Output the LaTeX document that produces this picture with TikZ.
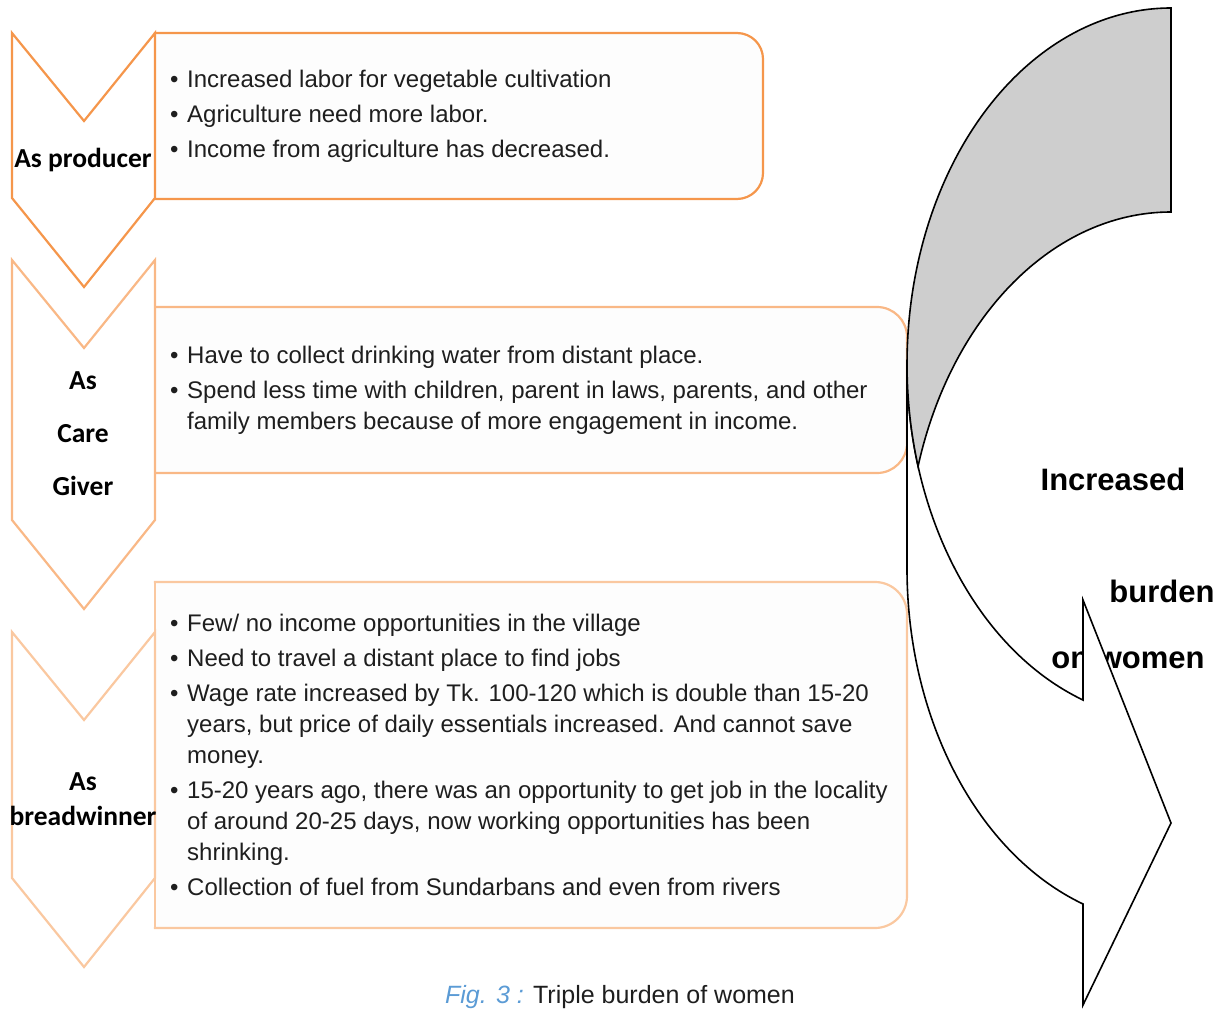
\documentclass[tikz,border=0pt]{standalone}
\usepackage{fontspec}
\setmainfont{Liberation Sans}
\newfontfamily\calibri{Carlito}
\definecolor{orangeA}{RGB}{245,150,75}
\definecolor{orangeB}{RGB}{249,184,134}
\definecolor{orangeC}{RGB}{250,200,160}
\definecolor{capblue}{RGB}{91,155,213}
\definecolor{backgray}{RGB}{206,206,206}
\definecolor{boxfill}{RGB}{253,253,253}
\definecolor{ink}{RGB}{30,30,30}
\newcommand{\bitem}{\makebox[17pt][l]{\textbullet}}
\newcommand{\bcont}{\hspace*{17pt}}

\begin{document}
\begin{tikzpicture}[x=1pt, y=-1pt]
  \tikzstyle{chevron} = [line width=2.2pt, fill=white, line join=miter]
  \tikzstyle{listbox} = [line width=2.2pt, fill=boxfill, line cap=rect]
  \tikzstyle{role} = [font=\calibri\bfseries\fontsize{27.5}{35}\selectfont, align=center, inner sep=0pt]
  \tikzstyle{points} = [font=\fontsize{24}{31}\selectfont, align=left, anchor=west, inner sep=0pt, text=ink]
  \tikzstyle{burden} = [font=\bfseries\fontsize{31}{37}\selectfont, inner sep=0pt]
  \tikzstyle{bigarrow} = [line width=1.6pt, line join=miter]

  \useasboundingbox (0,0) rectangle (1226,1009);

  % Draw list boxes
  \foreach \ytop/\ybot/\xr/\col/\rad in {33/199/763/orangeA/26, 307/473/907/orangeB/30, 582/928/907/orangeC/32}
    {
    \filldraw[listbox, draw=\col, rounded corners=\rad pt] (155,\ybot) -- (\xr,\ybot) -- (\xr,\ytop) -- (155,\ytop);
    \draw[listbox, draw=\col] (155,\ytop) -- (155,\ybot);
    }

  % Draw chevrons
  \foreach \ytop/\ybot/\col in {33/198/orangeA, 260/520/orangeB, 632/878/orangeC}
    \draw[chevron, draw=\col] (12,\ytop) -- (84,\ytop+88) -- (155,\ytop) -- (155,\ybot)
      -- (84,\ybot+89) -- (12,\ybot) -- cycle;

  % Roles
  \node[role] (producer) at (83,160) {As producer};
  \node[role, font=\calibri\bfseries\fontsize{27.5}{53}\selectfont] (caregiver) at (83,434) {As\\Care\\Giver};
  \node[role] (breadwinner) at (83,799) {As\\breadwinner};

  % Points
  \node[points] (producing) at (170,116) {\bitem Increased labor for vegetable cultivation\\[4pt]
    \bitem Agriculture need more labor.\\[4pt]
    \bitem Income from agriculture has decreased.};
  \node[points] (caring) at (170,390) {\bitem Have to collect drinking water from distant place.\\[4pt]
    \bitem Spend less time with children, parent in laws, parents, and other\\
    \bcont family members because of more engagement in income.};
  \node[points] (earning) at (170,755) {\bitem Few/ no income opportunities in the village\\[4pt]
    \bitem Need to travel a distant place to find jobs\\[4pt]
    \bitem Wage rate increased by Tk. 100-120 which is double than 15-20\\
    \bcont years, but price of daily essentials increased. And cannot save\\
    \bcont money.\\[4pt]
    \bitem 15-20 years ago, there was an opportunity to get job in the locality\\
    \bcont of around 20-25 days, now working opportunities has been\\
    \bcont shrinking.\\[4pt]
    \bitem Collection of fuel from Sundarbans and even from rivers};

  % Words on the curved arrow
  \node[burden] (increased) at (1113,479) {Increased};
  \node[burden] (burdenword) at (1162,591) {burden};
  \node[burden] (onwomen) at (1128,660) {on women};

  % Curved arrow
  \filldraw[bigarrow, fill=white] (907,364.2)
    arc[start angle=180, end angle=109.47, x radius=264, y radius=356.2]
    -- (1083,600) -- (1171,823) -- (1083,1005) -- (1083,904)
    arc[start angle=109.47, end angle=180, x radius=264, y radius=356.2] -- cycle;
  \filldraw[bigarrow, fill=backgray] (1171,8)
    arc[start angle=270, end angle=163.36, x radius=264, y radius=356.2]
    arc[start angle=196.64, end angle=270, x radius=264, y radius=356.2] -- cycle;

  % Caption
  \node[font=\fontsize{25}{30}\selectfont, inner sep=0pt, text=ink] (caption) at (620,997)
    {{\color{capblue}\itshape Fig. 3 :} Triple burden of women};

\end{tikzpicture}
\end{document}
